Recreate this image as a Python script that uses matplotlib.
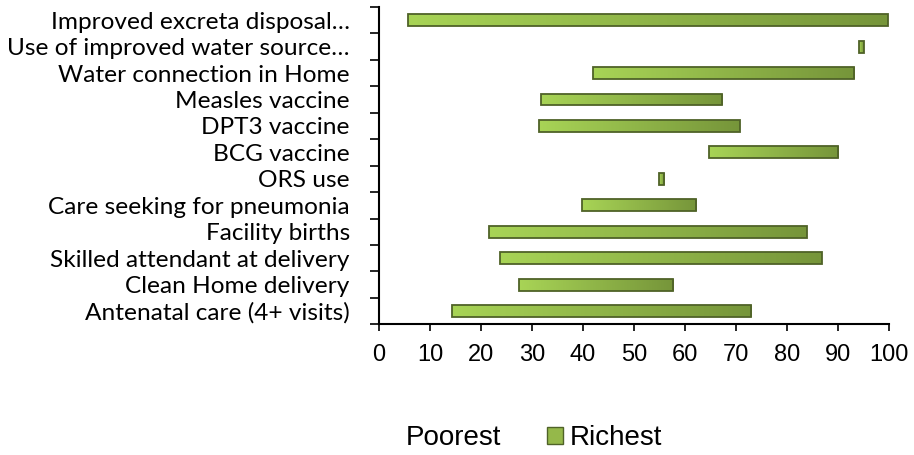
import numpy as np
import matplotlib
matplotlib.use("Agg")
import matplotlib.pyplot as plt
from matplotlib.colors import LinearSegmentedColormap
from matplotlib.patches import Rectangle, Patch

# Datos (de abajo hacia arriba)
categorias = [
    "Antenatal care (4+ visits)",
    "Clean Home delivery",
    "Skilled attendant at delivery",
    "Facility births",
    "Care seeking for pneumonia",
    "ORS use",
    "BCG vaccine",
    "DPT3 vaccine",
    "Measles vaccine",
    "Water connection in Home",
    "Use of improved water source…",
    "Improved excreta disposal…",
]
poorest = [14.3, 27.4, 23.8, 21.6, 39.7, 54.8, 64.7, 31.4, 31.7, 42.0, 94.2, 5.6]
richest = [73.0, 57.6, 86.8, 83.9, 62.2, 55.9, 90.0, 70.7, 67.3, 93.2, 95.0, 99.7]
ticks_x = [0, 10, 20, 30, 40, 50, 60, 70, 80, 90, 100]

# Colores
VERDE_CLARO = "#a8d456"
VERDE_OSCURO = "#76953a"
BORDE = "#4f6228"
degradado = LinearSegmentedColormap.from_list("verde", [VERDE_CLARO, VERDE_OSCURO])

fig = plt.figure(figsize=(9.14, 4.55), dpi=100)
ax = fig.add_axes([0.4147, 0.2873, 0.558, 0.6974])

y = np.arange(len(categorias))
alto = 0.45
ancho = np.array(richest) - np.array(poorest)

# barra invisible (Poorest) + barra Richest con degradado
ax.barh(y, poorest, height=alto, color="none", edgecolor="none")
barras = ax.barh(y, ancho, left=poorest, height=alto, color="none",
                 edgecolor=BORDE, linewidth=1.3, zorder=3)

grad = np.linspace(0, 1, 256).reshape(1, -1)
for b in barras:
    x0, y0 = b.get_x(), b.get_y()
    w, h = b.get_width(), b.get_height()
    im = ax.imshow(grad, cmap=degradado, aspect="auto",
                   extent=[x0, x0 + w, y0, y0 + h], zorder=2,
                   interpolation="bilinear")
    clip = Rectangle((x0, y0), w, h, transform=ax.transData)
    im.set_clip_path(clip)

ax.set_xlim(0, 100)
ax.set_ylim(-0.5, len(categorias) - 0.5)

ax.set_yticks(y)
ax.set_yticklabels(categorias, fontsize=17.6, family="Lato")
ax.set_yticks(np.arange(-0.5, len(categorias)), minor=True)
ax.tick_params(axis="y", which="major", length=0, pad=21)
ax.tick_params(axis="y", which="minor", length=6.5, width=1.2)

ax.set_xticks(ticks_x)
ax.set_xticklabels([str(t) for t in ticks_x], fontsize=17, family="Liberation Sans")
ax.tick_params(axis="x", length=5, width=1.2, pad=9)

for lado in ["top", "right"]:
    ax.spines[lado].set_visible(False)
for lado in ["left", "bottom"]:
    ax.spines[lado].set_linewidth(1.5)

# Leyenda
h_poor = Patch(facecolor="none", edgecolor="none", label="Poorest")
h_rich = Patch(facecolor="#95b84a", edgecolor=BORDE, label="Richest")
fig.legend(handles=[h_poor, h_rich], loc="center", ncol=2,
           bbox_to_anchor=(0.5717, 0.037), frameon=False,
           prop={"family": "Liberation Sans", "size": 20},
           handlelength=0.58, handleheight=0.58, handletextpad=0.25,
           columnspacing=1.65, borderpad=0)

fig.savefig("out.png", dpi=100)
